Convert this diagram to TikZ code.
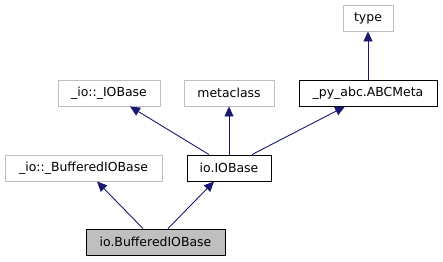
\documentclass[tikz,border=0pt]{standalone}
\usepackage{fontspec}
\setmainfont{DejaVu Sans}
\usetikzlibrary{arrows.meta}
\definecolor{edgeblue}{RGB}{25,25,112}
\definecolor{boxgray}{RGB}{191,191,191}

\begin{document}
\begin{tikzpicture}[x=1bp, y=-1bp,
  cls/.style={draw, line width=0.9bp, inner sep=0pt, font=\fontsize{12.5}{15}\selectfont,
    minimum height=26bp, align=center},
  ext/.style={cls, draw=boxgray},
  inh/.style={{Triangle[length=10bp, width=9bp]}-, line width=0.9bp, edgeblue}]
\useasboundingbox (0,0) rectangle (443,261);
% Top: metaclass root
\node[ext, minimum width=50bp] (type) at (368,18) {type};
% Middle row
\node[ext, minimum width=102bp] (iobasepriv) at (109,93) {\_io::\_IOBase};
\node[ext, minimum width=90bp] (metaclass) at (229,93) {metaclass};
\node[cls, minimum width=138bp] (abcmeta) at (368,93) {\_py\_abc.ABCMeta};
% Lower row
\node[ext, minimum width=157bp] (bufpriv) at (83.5,168) {\_io::\_BufferedIOBase};
\node[cls, minimum width=84bp] (iobase) at (229,168) {io.IOBase};
% Bottom: the class itself
\node[cls, fill=boxgray, minimum width=139bp] (bufbase) at (155.5,242) {io.BufferedIOBase};
% Inheritance edges
\draw[inh] ([xshift=13.5bp]bufpriv.south) -- ([xshift=-12.5bp]bufbase.north);
\draw[inh] ([xshift=-15bp]iobase.south) -- ([xshift=12.5bp]bufbase.north);
\draw[inh] ([xshift=21bp]iobasepriv.south) -- ([xshift=-20bp]iobase.north);
\draw[inh] (metaclass.south) -- (iobase.north);
\draw[inh] ([xshift=-23bp]abcmeta.south) -- ([xshift=23bp]iobase.north);
\draw[inh] (type.south) -- (abcmeta.north);
\end{tikzpicture}
\end{document}
